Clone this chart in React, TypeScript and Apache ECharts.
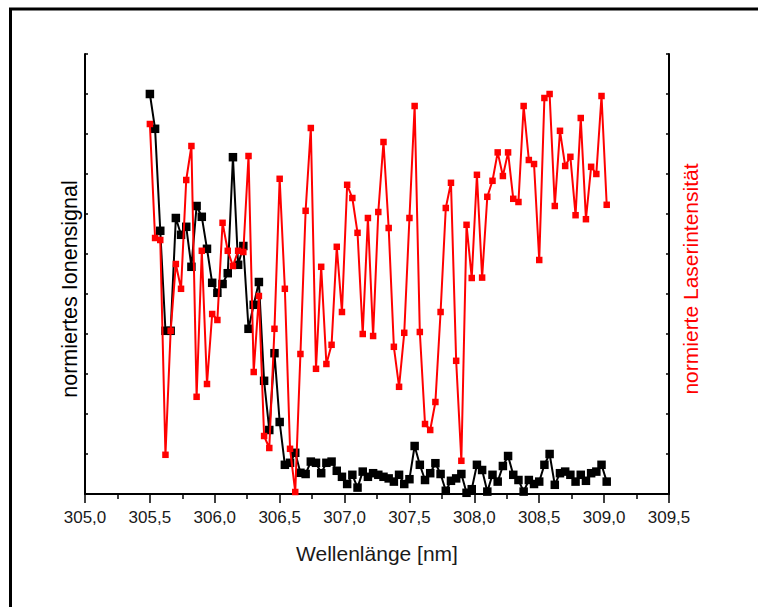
import React, { useEffect, useRef } from "react";
import * as echarts from "echarts";

// Wavelength grid (nm), shared by both series
const wavelengths = [
  305.50, 305.54, 305.58, 305.62, 305.66, 305.70, 305.74, 305.78, 305.82, 305.86,
  305.90, 305.94, 305.98, 306.02, 306.06, 306.10, 306.14, 306.18, 306.22, 306.26,
  306.30, 306.34, 306.38, 306.42, 306.46, 306.50, 306.54, 306.58, 306.62, 306.66,
  306.70, 306.74, 306.78, 306.82, 306.86, 306.90, 306.94, 306.98, 307.02, 307.06,
  307.10, 307.14, 307.18, 307.22, 307.26, 307.30, 307.34, 307.38, 307.42, 307.46,
  307.50, 307.54, 307.58, 307.62, 307.66, 307.70, 307.74, 307.78, 307.82, 307.86,
  307.90, 307.94, 307.98, 308.02, 308.06, 308.10, 308.14, 308.18, 308.22, 308.26,
  308.30, 308.34, 308.38, 308.42, 308.46, 308.50, 308.54, 308.58, 308.62, 308.66,
  308.70, 308.74, 308.78, 308.82, 308.86, 308.90, 308.94, 308.98, 309.02,
];

// normiertes Ionensignal (black)
const ionSignal = [
  1.000, 0.913, 0.658, 0.408, 0.408, 0.690, 0.648, 0.668, 0.568, 0.720,
  0.693, 0.613, 0.528, 0.503, 0.525, 0.552, 0.842, 0.573, 0.620, 0.413,
  0.473, 0.530, 0.283, 0.160, 0.352, 0.180, 0.073, 0.078, 0.103, 0.053,
  0.050, 0.081, 0.078, 0.052, 0.078, 0.081, 0.058, 0.043, 0.025, 0.048,
  0.016, 0.056, 0.043, 0.052, 0.048, 0.043, 0.039, 0.031, 0.048, 0.025,
  0.037, 0.120, 0.073, 0.035, 0.052, 0.077, 0.050, 0.008, 0.033, 0.039,
  0.050, 0.003, 0.012, 0.073, 0.060, 0.006, 0.048, 0.031, 0.070, 0.095,
  0.048, 0.035, 0.006, 0.035, 0.025, 0.031, 0.073, 0.100, 0.023, 0.052,
  0.056, 0.048, 0.031, 0.048, 0.033, 0.052, 0.056, 0.073, 0.031,
];

// normierte Laserintensität (red)
const laserIntensity = [
  0.925, 0.640, 0.635, 0.098, 0.408, 0.575, 0.513, 0.785, 0.870, 0.243,
  0.608, 0.275, 0.450, 0.435, 0.678, 0.608, 0.570, 0.608, 0.605, 0.845,
  0.305, 0.495, 0.145, 0.115, 0.413, 0.788, 0.513, 0.113, 0.005, 0.350,
  0.708, 0.915, 0.313, 0.568, 0.325, 0.373, 0.618, 0.455, 0.773, 0.740,
  0.653, 0.400, 0.690, 0.395, 0.705, 0.880, 0.665, 0.368, 0.268, 0.403,
  0.690, 0.970, 0.405, 0.175, 0.160, 0.230, 0.455, 0.715, 0.778, 0.333,
  0.083, 0.673, 0.540, 0.798, 0.541, 0.743, 0.783, 0.854, 0.795, 0.854,
  0.738, 0.730, 0.970, 0.835, 0.825, 0.585, 0.990, 1.000, 0.720, 0.908,
  0.820, 0.843, 0.697, 0.940, 0.687, 0.818, 0.800, 0.995, 0.723,
];

const xTitle = "Wellenlänge [nm]";
const yLeftTitle = "normiertes Ionensignal";
const yRightTitle = "normierte Laserintensität";

const FONT = '"Liberation Sans", Arial, Helvetica, sans-serif';

export default function App() {
  const ref = useRef<HTMLDivElement>(null);

  useEffect(() => {
    if (!ref.current) return;
    const chart = echarts.init(ref.current, undefined, { renderer: "svg" });

    const axisLineStyle = { color: "#000", width: 2 };
    const yAxisBase = {
      type: "value" as const,
      min: 0,
      max: 1.1,
      interval: 0.1,
      axisLine: { show: true, onZero: false, lineStyle: axisLineStyle },
      axisTick: { show: true, inside: true, length: 3, lineStyle: { color: "#000", width: 1.5 } },
      axisLabel: { show: false },
      splitLine: { show: false },
    };

    const option = {
      animation: false,
      backgroundColor: "#ffffff",
      grid: { left: 85, right: 89, top: 54, bottom: 113, containLabel: false },
      xAxis: {
        type: "value",
        min: 305,
        max: 309.5,
        interval: 0.5,
        axisLine: { show: true, onZero: false, lineStyle: axisLineStyle },
        axisTick: { show: true, inside: false, length: 9, lineStyle: { color: "#000", width: 1.5 } },
        minorTick: { show: true, splitNumber: 2, length: 5, lineStyle: { color: "#000", width: 1.5 } },
        axisLabel: {
          show: true,
          margin: 15,
          fontSize: 17,
          fontFamily: FONT,
          color: "#1a1a1a",
          formatter: (v: number) => v.toFixed(1).replace(".", ","),
        },
        splitLine: { show: false },
        minorSplitLine: { show: false },
      },
      yAxis: [
        { ...yAxisBase, position: "left" },
        { ...yAxisBase, position: "right" },
      ],
      series: [
        {
          name: "Ionensignal",
          type: "line",
          xAxisIndex: 0,
          yAxisIndex: 0,
          data: wavelengths.map((x, i) => [x, ionSignal[i]]),
          showSymbol: true,
          showAllSymbol: true,
          symbol: "rect",
          symbolSize: 8.5,
          lineStyle: { color: "#000", width: 2 },
          itemStyle: { color: "#000" },
          z: 2,
        },
        {
          name: "Laserintensität",
          type: "line",
          xAxisIndex: 0,
          yAxisIndex: 1,
          data: wavelengths.map((x, i) => [x, laserIntensity[i]]),
          showSymbol: true,
          showAllSymbol: true,
          symbol: "rect",
          symbolSize: 6.5,
          lineStyle: { color: "#ff0000", width: 2 },
          itemStyle: { color: "#ff0000" },
          z: 3,
        },
      ],
      graphic: [
        {
          type: "rect",
          silent: true,
          shape: { x: 10.5, y: 9, width: 900, height: 800 },
          style: { fill: "none", stroke: "#000", lineWidth: 3 },
        },
        {
          type: "text",
          silent: true,
          x: 377,
          y: 553,
          style: {
            text: xTitle,
            fill: "#1a1a1a",
            fontSize: 21,
            fontFamily: FONT,
            align: "center",
            verticalAlign: "middle",
          },
        },
        {
          type: "text",
          silent: true,
          x: 70,
          y: 289,
          rotation: Math.PI / 2,
          style: {
            text: yLeftTitle,
            fill: "#000",
            fontSize: 21.5,
            fontFamily: FONT,
            align: "center",
            verticalAlign: "middle",
          },
        },
        {
          type: "text",
          silent: true,
          x: 690,
          y: 279,
          rotation: Math.PI / 2,
          style: {
            text: yRightTitle,
            fill: "#ff0000",
            fontSize: 21,
            fontFamily: FONT,
            align: "center",
            verticalAlign: "middle",
          },
        },
      ],
    };

    chart.setOption(option as any);
    return () => chart.dispose();
  }, []);

  return (
    <div
      ref={ref}
      style={{ position: "absolute", left: 0, top: 0, width: 758, height: 607 }}
    />
  );
}
